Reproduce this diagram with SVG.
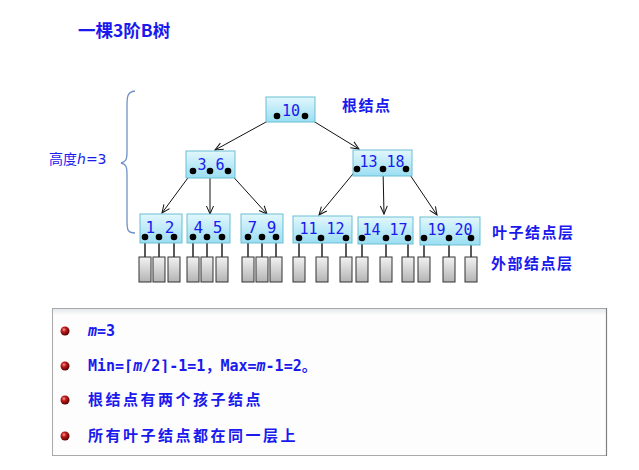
<svg xmlns="http://www.w3.org/2000/svg" width="639" height="470" viewBox="0 0 639 470">
<defs>
<linearGradient id="gNode" x1="0" y1="0" x2="0" y2="1">
<stop offset="0" stop-color="#e2f7fd"/>
<stop offset="1" stop-color="#9adef2"/>
</linearGradient>
<linearGradient id="gExt" x1="0" y1="0" x2="0" y2="1">
<stop offset="0" stop-color="#f2f2f2"/>
<stop offset="1" stop-color="#b4b4b4"/>
</linearGradient>
<linearGradient id="gBand" x1="0" y1="0" x2="0" y2="1">
<stop offset="0" stop-color="#e4e8ee"/>
<stop offset="1" stop-color="#fdfdfd"/>
</linearGradient>
<radialGradient id="gBullet" cx="0.38" cy="0.35" r="0.7">
<stop offset="0" stop-color="#ff9a9a"/>
<stop offset="0.35" stop-color="#c21a1a"/>
<stop offset="1" stop-color="#4a0000"/>
</radialGradient>
<marker id="arr" markerWidth="10" markerHeight="10" refX="9" refY="5" orient="auto" markerUnits="userSpaceOnUse">
<path d="M1,1.5 L9,5 L1,8.5" fill="none" stroke="#111" stroke-width="1"/>
</marker>
</defs>
<style>
.node{fill:url(#gNode);stroke:#6bbfd4;stroke-width:1}
.ext{fill:url(#gExt);stroke:#333;stroke-width:1}
.key{font-family:"DejaVu Sans Mono","Liberation Mono",monospace;font-size:15px;fill:#1a1aee;text-anchor:middle}
.big{font-size:16px}
.dot{fill:#000}
.stem{stroke:#000;stroke-width:1.3}
.edge{stroke:#111;stroke-width:1;fill:none;marker-end:url(#arr)}
.lbl{font-family:"Noto Sans CJK SC",sans-serif;font-weight:bold;font-size:15px;fill:#1a1aee;letter-spacing:1.5px}
.line{font-family:"DejaVu Sans Mono","Noto Sans CJK SC",monospace;font-weight:bold;font-size:15px;fill:#1a1aee}
.fw{font-family:"Noto Sans CJK SC",sans-serif}
.cjk{font-family:"Noto Sans CJK SC",sans-serif;font-weight:bold;font-size:15px;fill:#1a1aee;letter-spacing:2.5px}
</style>
<rect width="639" height="470" fill="#fff"/>

<text x="78" y="37" font-family="Noto Sans CJK SC, sans-serif" font-weight="bold" font-size="17.5" fill="#1a1aee">一棵3阶B树</text>

<g id="height-label">
<path d="M135,91 C127,92 127,97 127,106 L127,152 C127,159 126,162 121,163 C126,164 127,167 127,174 L127,220 C127,229 127,233 135,233" fill="none" stroke="#6f93c4" stroke-width="1.3"/>
<text x="49" y="164" font-family="Noto Sans CJK SC, sans-serif" font-size="14" fill="#1a1aee">高度<tspan font-style="italic" font-family="DejaVu Sans, sans-serif">h</tspan><tspan font-family="DejaVu Sans, sans-serif">=3</tspan></text>
</g>

<g id="connectors">
<line class="edge" x1="277" y1="116" x2="215" y2="150"/>
<line class="edge" x1="305" y1="116" x2="359" y2="149"/>
<line class="edge" x1="193" y1="171" x2="162" y2="213"/>
<line class="edge" x1="210" y1="171" x2="210" y2="214"/>
<line class="edge" x1="228" y1="171" x2="267" y2="214"/>
<line class="edge" x1="357" y1="169" x2="319" y2="215"/>
<line class="edge" x1="383" y1="169" x2="384" y2="214"/>
<line class="edge" x1="406" y1="169" x2="437" y2="215"/>
<g class="stem">
<line x1="145" y1="237" x2="145" y2="257"/><line x1="159" y1="237" x2="159" y2="257"/><line x1="174" y1="237" x2="174" y2="257"/>
<line x1="193" y1="237" x2="193" y2="257"/><line x1="207" y1="237" x2="207" y2="257"/><line x1="222" y1="237" x2="222" y2="257"/>
<line x1="248" y1="237" x2="248" y2="257"/><line x1="262" y1="237" x2="262" y2="257"/><line x1="276" y1="237" x2="276" y2="257"/>
<line x1="299" y1="238" x2="299" y2="257"/><line x1="322" y1="238" x2="322" y2="257"/><line x1="346" y1="238" x2="346" y2="257"/>
<line x1="362" y1="238" x2="362" y2="257"/><line x1="386" y1="238" x2="386" y2="257"/><line x1="408" y1="238" x2="408" y2="257"/>
<line x1="424" y1="238" x2="424" y2="257"/><line x1="449" y1="238" x2="449" y2="257"/><line x1="471" y1="238" x2="471" y2="257"/>
</g>
</g>

<g id="root">
<rect class="node" x="266" y="97" width="49" height="25"/>
<text class="key" x="291" y="116">10</text>
<circle class="dot" cx="277" cy="116" r="3.3"/><circle class="dot" cx="305" cy="116" r="3.3"/>
</g>
<text class="lbl" x="342" y="111">根结点</text>

<g id="n36">
<rect class="node" x="186" y="151" width="49" height="27"/>
<text class="key" x="211" y="170">3 6</text>
<circle class="dot" cx="193" cy="171" r="3.3"/><circle class="dot" cx="210" cy="171" r="3.3"/><circle class="dot" cx="228" cy="171" r="3.3"/>
</g>
<g id="n1318">
<rect class="node" x="353" y="150" width="59" height="26"/>
<text class="key" x="382" y="167">13 18</text>
<circle class="dot" cx="357" cy="169" r="3.3"/><circle class="dot" cx="383" cy="169" r="3.3"/><circle class="dot" cx="406" cy="169" r="3.3"/>
</g>

<g id="leaf12">
<rect class="node" x="140" y="214" width="42" height="29"/>
<text class="key big" x="160" y="233">1 2</text>
<circle class="dot" cx="145" cy="237" r="3.3"/><circle class="dot" cx="159" cy="237" r="3.3"/><circle class="dot" cx="174" cy="237" r="3.3"/>
</g>
<g id="leaf45">
<rect class="node" x="187" y="214" width="43" height="29"/>
<text class="key big" x="208" y="233">4 5</text>
<circle class="dot" cx="193" cy="237" r="3.3"/><circle class="dot" cx="207" cy="237" r="3.3"/><circle class="dot" cx="222" cy="237" r="3.3"/>
</g>
<g id="leaf79">
<rect class="node" x="241" y="214" width="42" height="29"/>
<text class="key big" x="262" y="233">7 9</text>
<circle class="dot" cx="248" cy="237" r="3.3"/><circle class="dot" cx="262" cy="237" r="3.3"/><circle class="dot" cx="276" cy="237" r="3.3"/>
</g>
<g id="leaf1112">
<rect class="node" x="293" y="216" width="59" height="27"/>
<text class="key" x="322" y="234">11 12</text>
<circle class="dot" cx="299" cy="238" r="3.3"/><circle class="dot" cx="321" cy="238" r="3.3"/><circle class="dot" cx="346" cy="238" r="3.3"/>
</g>
<g id="leaf1417">
<rect class="node" x="358" y="217" width="55" height="27"/>
<text class="key" x="385" y="235">14 17</text>
<circle class="dot" cx="362" cy="238" r="3.3"/><circle class="dot" cx="386" cy="238" r="3.3"/><circle class="dot" cx="408" cy="238" r="3.3"/>
</g>
<g id="leaf1920">
<rect class="node" x="420" y="217" width="60" height="28"/>
<text class="key" x="450" y="235">19 20</text>
<circle class="dot" cx="424" cy="238" r="3.3"/><circle class="dot" cx="449" cy="238" r="3.3"/><circle class="dot" cx="471" cy="238" r="3.3"/>
</g>

<g id="external">
<rect class="ext" x="139" y="257" width="12" height="25"/><rect class="ext" x="153" y="257" width="12" height="25"/><rect class="ext" x="168" y="257" width="12" height="25"/>
<rect class="ext" x="187" y="257" width="12" height="25"/><rect class="ext" x="201" y="257" width="12" height="25"/><rect class="ext" x="216" y="257" width="12" height="25"/>
<rect class="ext" x="242" y="257" width="12" height="25"/><rect class="ext" x="256" y="257" width="12" height="25"/><rect class="ext" x="270" y="257" width="12" height="25"/>
<rect class="ext" x="293" y="257" width="12" height="25"/><rect class="ext" x="316" y="257" width="12" height="25"/><rect class="ext" x="340" y="257" width="12" height="25"/>
<rect class="ext" x="356" y="257" width="12" height="25"/><rect class="ext" x="380" y="257" width="12" height="25"/><rect class="ext" x="402" y="257" width="12" height="25"/>
<rect class="ext" x="418" y="257" width="12" height="25"/><rect class="ext" x="443" y="257" width="12" height="25"/><rect class="ext" x="465" y="257" width="12" height="25"/>
</g>

<text class="lbl" x="492" y="238">叶子结点层</text>
<text class="lbl" x="491" y="269">外部结点层</text>

<g id="notes">
<rect x="52.5" y="308.5" width="554" height="147" fill="#fdfdfd" stroke="#a8a8a8" stroke-width="1"/>
<rect x="53" y="309" width="553" height="6" fill="url(#gBand)"/>
<line x1="606.5" y1="308" x2="606.5" y2="456" stroke="#808080" stroke-width="1.2"/>
<circle cx="65" cy="331" r="4.5" fill="url(#gBullet)"/>
<circle cx="65" cy="366" r="4.5" fill="url(#gBullet)"/>
<circle cx="65" cy="400" r="4.5" fill="url(#gBullet)"/>
<circle cx="65" cy="436" r="4.5" fill="url(#gBullet)"/>
<text class="line" x="88" y="336"><tspan font-style="italic">m</tspan>=3</text>
<text class="line" x="88" y="371">Min=⌈<tspan font-style="italic">m</tspan>/2⌉-1=1<tspan class="fw">，</tspan>Max=<tspan font-style="italic">m</tspan>-1=2<tspan class="fw">。</tspan></text>
<text class="cjk" x="88" y="405">根结点有两个孩子结点</text>
<text class="cjk" x="88" y="441">所有叶子结点都在同一层上</text>
</g>
</svg>
